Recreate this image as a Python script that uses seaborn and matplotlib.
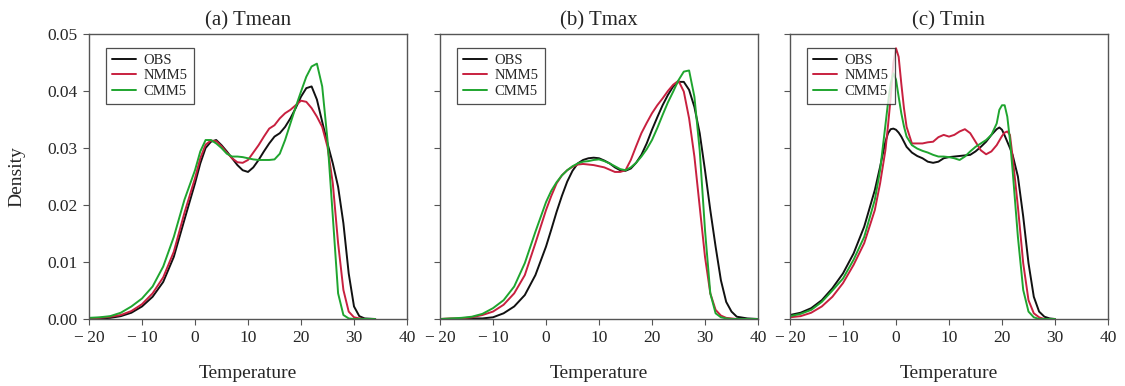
import numpy as np
import pandas as pd
import matplotlib
matplotlib.use("Agg")
import matplotlib.pyplot as plt
import seaborn as sns

# Density curves (temperature in deg C)
series_names = ["OBS", "NMM5", "CMM5"]
panel_titles = ["(a) Tmean", "(b) Tmax", "(c) Tmin"]
x_ticks = [-20, -10, 0, 10, 20, 30, 40]
x_tick_labels = ["\u2212\u200920", "\u2212\u200910", "0", "10", "20", "30", "40"]
y_ticks = [0.0, 0.01, 0.02, 0.03, 0.04, 0.05]
y_tick_labels = ["0.00", "0.01", "0.02", "0.03", "0.04", "0.05"]

# (a) Tmean
tmean_t = [-20, -18, -16, -14, -12, -10, -8, -6, -4, -2, 0, 1, 2, 3, 4, 5, 6, 7, 8, 9,
           10, 11, 12, 13, 14, 15, 16, 17, 18, 19, 20, 21, 22, 23, 24, 25, 26, 27, 28, 29,
           30, 31, 32, 34]
tmean_obs = [0.0001, 0.0001, 0.0002, 0.0005, 0.0011, 0.0022, 0.0039, 0.0065, 0.0109, 0.0174,
             0.0238, 0.0273, 0.0300, 0.0311, 0.0314, 0.0305, 0.0294, 0.0282, 0.0270, 0.0261,
             0.0258, 0.0266, 0.0279, 0.0294, 0.0308, 0.0320, 0.0326, 0.0337, 0.0352, 0.0370,
             0.0390, 0.0405, 0.0408, 0.0385, 0.0346, 0.0308, 0.0273, 0.0232, 0.0168, 0.0080,
             0.0022, 0.0005, 0.0001, 0.0]
tmean_nmm5 = [0.0001, 0.0002, 0.0004, 0.0007, 0.0014, 0.0026, 0.0045, 0.0073, 0.0118, 0.0186,
              0.0247, 0.0282, 0.0306, 0.0313, 0.0312, 0.0303, 0.0292, 0.0282, 0.0275, 0.0274,
              0.0279, 0.0292, 0.0305, 0.0320, 0.0334, 0.0340, 0.0352, 0.0361, 0.0367, 0.0375,
              0.0383, 0.0381, 0.0370, 0.0355, 0.0337, 0.0302, 0.0238, 0.0133, 0.0051, 0.0013,
              0.0003, 0.0001, 0.0, 0.0]
tmean_cmm5 = [0.0002, 0.0003, 0.0005, 0.0011, 0.0022, 0.0036, 0.0057, 0.0092, 0.0144, 0.0209,
              0.0261, 0.0294, 0.0314, 0.0314, 0.0308, 0.0300, 0.0290, 0.0285, 0.0285, 0.0284,
              0.0282, 0.0280, 0.0279, 0.0279, 0.0279, 0.0280, 0.0290, 0.0314, 0.0343, 0.0372,
              0.0399, 0.0425, 0.0443, 0.0448, 0.0408, 0.0314, 0.0180, 0.0045, 0.0007, 0.0001,
              0.0, 0.0, 0.0, 0.0]

# (b) Tmax
tmax_t = [-20, -18, -16, -14, -12, -10, -8, -6, -4, -2, 0, 1, 2, 3, 4, 5, 6, 7, 8, 9,
          10, 11, 12, 13, 14, 15, 16, 17, 18, 19, 20, 21, 22, 23, 24, 25, 26, 27, 28, 29,
          30, 31, 32, 33, 34, 35, 36, 38, 40]
tmax_obs = [0.0, 0.0, 0.0, 0.0001, 0.0001, 0.0003, 0.0010, 0.0022, 0.0042, 0.0077,
            0.0127, 0.0157, 0.0188, 0.0216, 0.0241, 0.0260, 0.0273, 0.0279, 0.0282, 0.0283,
            0.0282, 0.0278, 0.0273, 0.0266, 0.0261, 0.0260, 0.0264, 0.0274, 0.0288, 0.0308,
            0.0332, 0.0354, 0.0375, 0.0393, 0.0408, 0.0416, 0.0416, 0.0402, 0.0372, 0.0326,
            0.0261, 0.0191, 0.0127, 0.0068, 0.0030, 0.0013, 0.0004, 0.0001, 0.0]
tmax_nmm5 = [0.0, 0.0001, 0.0001, 0.0003, 0.0007, 0.0013, 0.0025, 0.0045, 0.0077, 0.0133,
             0.0191, 0.0216, 0.0238, 0.0252, 0.0261, 0.0267, 0.0271, 0.0272, 0.0271, 0.0270,
             0.0268, 0.0266, 0.0262, 0.0258, 0.0258, 0.0261, 0.0279, 0.0303, 0.0326, 0.0344,
             0.0361, 0.0375, 0.0387, 0.0400, 0.0411, 0.0418, 0.0399, 0.0352, 0.0285, 0.0197,
             0.0109, 0.0045, 0.0016, 0.0006, 0.0002, 0.0001, 0.0, 0.0, 0.0]
tmax_cmm5 = [0.0, 0.0001, 0.0002, 0.0004, 0.0009, 0.0019, 0.0033, 0.0057, 0.0098, 0.0153,
             0.0205, 0.0225, 0.0240, 0.0252, 0.0261, 0.0268, 0.0273, 0.0276, 0.0277, 0.0279,
             0.0280, 0.0277, 0.0273, 0.0268, 0.0263, 0.0261, 0.0266, 0.0274, 0.0285, 0.0298,
             0.0314, 0.0335, 0.0358, 0.0380, 0.0399, 0.0419, 0.0434, 0.0436, 0.0390, 0.0296,
             0.0156, 0.0045, 0.0010, 0.0003, 0.0001, 0.0, 0.0, 0.0, 0.0]

# (c) Tmin
tmin_t = [-20, -18, -16, -14, -12, -10, -8, -6, -4, -3, -2, -1.5, -1, -0.5, 0, 0.5, 1, 1.5,
          2, 3, 4, 5, 6, 7, 8, 9, 10, 11, 12, 13, 14, 15, 16, 17, 18, 19, 19.5, 20, 20.5,
          21, 21.5, 22, 23, 24, 25, 26, 27, 28, 29, 30]
tmin_obs = [0.0007, 0.0011, 0.0019, 0.0033, 0.0054, 0.0080, 0.0115, 0.0162, 0.0226, 0.0267,
            0.0311, 0.0326, 0.0333, 0.0334, 0.0332, 0.0327, 0.0320, 0.0311, 0.0302, 0.0292,
            0.0286, 0.0282, 0.0276, 0.0274, 0.0276, 0.0282, 0.0284, 0.0285, 0.0286, 0.0287,
            0.0288, 0.0294, 0.0302, 0.0311, 0.0323, 0.0333, 0.0336, 0.0332, 0.0322, 0.0311,
            0.0300, 0.0288, 0.0250, 0.0180, 0.0098, 0.0039, 0.0013, 0.0004, 0.0001, 0.0]
tmin_nmm5 = [0.0003, 0.0005, 0.0011, 0.0022, 0.0039, 0.0063, 0.0095, 0.0133, 0.0191, 0.0238,
             0.0296, 0.0340, 0.0389, 0.0449, 0.0475, 0.0460, 0.0413, 0.0370, 0.0337, 0.0308,
             0.0308, 0.0308, 0.0310, 0.0311, 0.0319, 0.0323, 0.0320, 0.0323, 0.0329, 0.0333,
             0.0326, 0.0311, 0.0296, 0.0289, 0.0294, 0.0305, 0.0313, 0.0321, 0.0327, 0.0329,
             0.0323, 0.0285, 0.0197, 0.0098, 0.0033, 0.0010, 0.0003, 0.0, 0.0, 0.0]
tmin_cmm5 = [0.0005, 0.0009, 0.0016, 0.0030, 0.0050, 0.0071, 0.0104, 0.0144, 0.0209, 0.0261,
             0.0340, 0.0380, 0.0413, 0.0431, 0.0420, 0.0390, 0.0361, 0.0338, 0.0320, 0.0305,
             0.0299, 0.0295, 0.0292, 0.0288, 0.0285, 0.0285, 0.0284, 0.0282, 0.0279, 0.0285,
             0.0294, 0.0302, 0.0308, 0.0314, 0.0323, 0.0343, 0.0367, 0.0375, 0.0375, 0.0355,
             0.0314, 0.0261, 0.0144, 0.0051, 0.0013, 0.0003, 0.0, 0.0, 0.0, 0.0]

colors = {"OBS": "#111111", "NMM5": "#c8203f", "CMM5": "#1fa52f"}

panels = [
    (tmean_t, [tmean_obs, tmean_nmm5, tmean_cmm5]),
    (tmax_t, [tmax_obs, tmax_nmm5, tmax_cmm5]),
    (tmin_t, [tmin_obs, tmin_nmm5, tmin_cmm5]),
]

sns.set_style("white")
plt.rcParams["font.family"] = ["Liberation Serif", "DejaVu Serif"]

fig = plt.figure(figsize=(11.25, 3.86), dpi=100)
lefts = [89 / 1125, 440 / 1125, 790 / 1125]
frame_col = "#555555"

for i, (t, ys) in enumerate(panels):
    ax = fig.add_axes([lefts[i], 67 / 386, 318 / 1125, 285 / 386])
    rows = []
    for name, vals in zip(series_names, ys):
        rows.append(pd.DataFrame({"Temperature": t, "Density": vals, "src": name}))
    df = pd.concat(rows, ignore_index=True)
    sns.lineplot(data=df, x="Temperature", y="Density", hue="src", palette=colors,
                 hue_order=series_names, linewidth=1.4, ax=ax, sort=False)

    ax.set_xlim(-20, 40)
    ax.set_ylim(0, 0.05)
    ax.set_xticks(x_ticks, x_tick_labels)
    ax.set_yticks(y_ticks, y_tick_labels if i == 0 else [""] * len(y_ticks))
    ax.tick_params(axis="both", direction="out", length=4, width=0.8, color=frame_col,
                   labelsize=12.5, pad=4, left=True, bottom=True)
    for sp in ax.spines.values():
        sp.set_color(frame_col)
        sp.set_linewidth(1.0)

    ax.set_title(panel_titles[i], fontsize=15, pad=6)
    ax.set_xlabel("Temperature", fontsize=14)
    ax.xaxis.set_label_coords(0.5, -0.16)
    if i == 0:
        ax.set_ylabel("Density", fontsize=14)
        ax.yaxis.set_label_coords(-0.2, 0.5)
    else:
        ax.set_ylabel("")

    handles, labels = ax.get_legend_handles_labels()
    leg = ax.legend(handles, labels, loc="upper left", bbox_to_anchor=(0.053, 0.951),
                    borderaxespad=0, fontsize=10.5, frameon=True, fancybox=False,
                    handlelength=1.7, handletextpad=0.5, labelspacing=0.15,
                    borderpad=0.4)
    leg.get_frame().set_edgecolor("#222222")
    leg.get_frame().set_linewidth(0.9)

fig.savefig("out.png", dpi=100)
